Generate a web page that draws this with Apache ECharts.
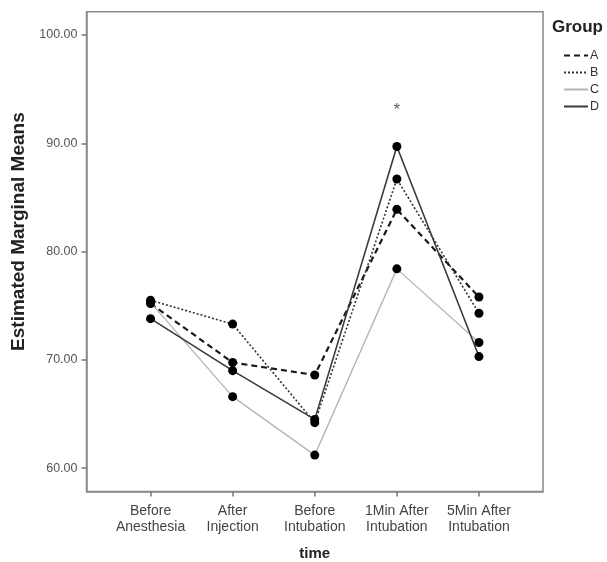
<!DOCTYPE html>
<html>
<head>
<meta charset="utf-8">
<script src="https://cdn.jsdelivr.net/npm/echarts@6/dist/echarts.min.js"></script>
<style>
html,body{margin:0;padding:0;background:#fff;}
#c{width:607px;height:562px;}
</style>
</head>
<body>
<div id="c"></div>
<script>
var categories = ['Before\nAnesthesia', 'After\nInjection', 'Before\nIntubation', '1Min After\nIntubation', '5Min After\nIntubation'];
var groupNames = ['A', 'B', 'C', 'D'];
var seriesA = [75.2, 69.75, 68.6, 83.9, 75.8];
var seriesB = [75.5, 73.3, 64.2, 86.7, 74.3];
var seriesC = [75.3, 66.6, 61.2, 78.4, 71.6];
var seriesD = [73.8, 69.0, 64.5, 89.7, 70.3];
var yTicks = [60, 70, 80, 90, 100];
var annotation = {category: 3, value: 93.0, text: '*'};

var allSeries = [seriesA, seriesB, seriesC, seriesD];
var lineStyles = [
  {color: '#1a1a1a', width: 2.2, type: [6, 4]},
  {color: '#333333', width: 1.6, type: [2, 2]},
  {color: '#b4b4b4', width: 1.3, type: 'solid'},
  {color: '#3a3a3a', width: 1.6, type: 'solid'}
];
var font = 'Liberation Sans, Arial, sans-serif';

function pairs(arr) { return arr.map(function (v, i) { return [i, v]; }); }

var series = [];
allSeries.forEach(function (s, k) {
  series.push({
    name: groupNames[k], type: 'line', data: pairs(s), symbol: 'none',
    lineStyle: lineStyles[k], itemStyle: {color: lineStyles[k].color},
    silent: true, animation: false, z: 2
  });
});
allSeries.forEach(function (s, k) {
  series.push({
    name: 'pts' + k, type: 'scatter', data: pairs(s), symbol: 'circle', symbolSize: 9,
    itemStyle: {color: '#000', opacity: 1}, silent: true, animation: false, z: 3
  });
});
series.push({
  name: 'note', type: 'scatter', data: [[annotation.category, annotation.value]],
  symbolSize: 0, animation: false, silent: true,
  label: {show: true, formatter: annotation.text, position: 'inside', fontSize: 17, color: '#2a3550', fontFamily: font}
});

var chart = echarts.init(document.getElementById('c'), null, {renderer: 'canvas'});
chart.setOption({
  backgroundColor: '#fff',
  animation: false,
  grid: {left: 86.5, right: 64, top: 11.7, bottom: 70.5, show: true, borderColor: '#8a8a8a', borderWidth: 1.5,
    containLabel: false, outerBoundsMode: 'none'},
  legend: {
    data: groupNames, orient: 'vertical', left: 558, top: 44,
    itemWidth: 24, itemHeight: 10, itemGap: 4,
    itemStyle: {opacity: 0},
    textStyle: {fontSize: 12.5, color: '#333', fontFamily: font, padding: [0, 0, 0, -3]}
  },
  title: {text: 'Group', left: 552, top: 19, padding: 0, textStyle: {fontSize: 17, fontWeight: 'bold', color: '#222', fontFamily: font}},
  xAxis: {
    type: 'value', min: -0.78, max: 4.78,
    name: 'time', nameLocation: 'middle', nameGap: 55,
    nameTextStyle: {fontSize: 15, fontWeight: 'bold', color: '#222', fontFamily: font},
    axisLine: {show: true, onZero: false, lineStyle: {color: '#8a8a8a', width: 1.5}},
    axisTick: {show: true, length: 5, lineStyle: {color: '#777', width: 1.5}, customValues: [0, 1, 2, 3, 4]},
    axisLabel: {customValues: [0, 1, 2, 3, 4], fontSize: 14, color: '#444', fontFamily: font, lineHeight: 16, margin: 12,
      formatter: function (v) { return categories[Math.round(v)] || ''; }},
    splitLine: {show: false}
  },
  yAxis: {
    type: 'value', min: 57.84, max: 102.15,
    name: 'Estimated Marginal Means', nameLocation: 'middle', nameGap: 58,
    nameTextStyle: {fontSize: 19, fontWeight: 'bold', color: '#222', fontFamily: font, padding: [0, 0, 0, 40]},
    axisLine: {show: true, onZero: false, lineStyle: {color: '#8a8a8a', width: 1.5}},
    axisTick: {show: true, length: 5, lineStyle: {color: '#777', width: 1.5}, customValues: yTicks},
    axisLabel: {customValues: yTicks, fontSize: 12.5, color: '#555', fontFamily: font, margin: 9,
      formatter: function (v) { return v.toFixed(2); }},
    splitLine: {show: false}
  },
  series: series
});
</script>
</body>
</html>
